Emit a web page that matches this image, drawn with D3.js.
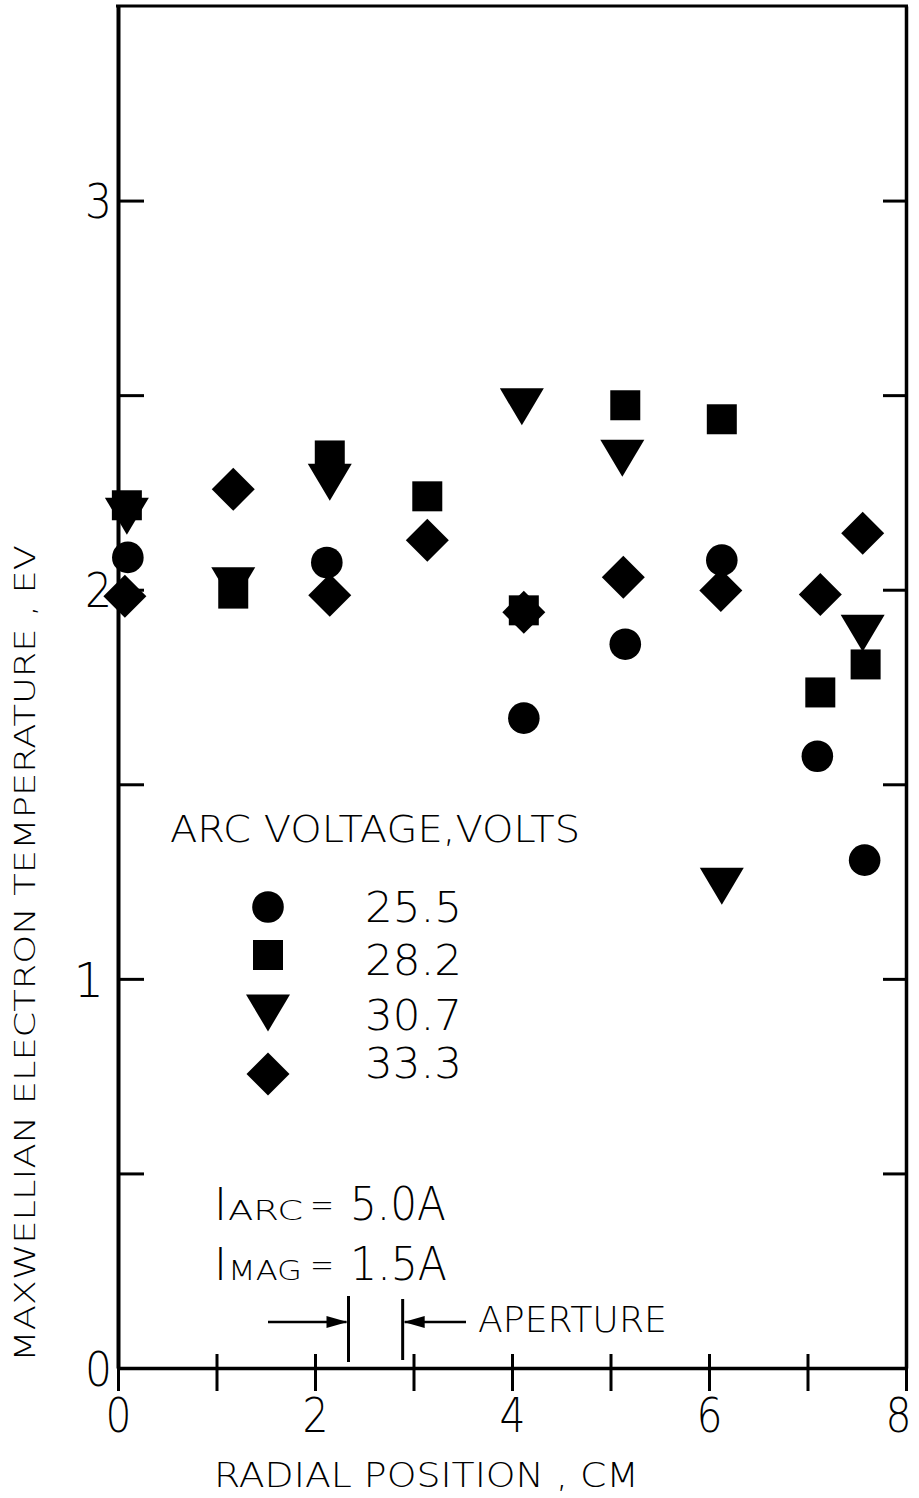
<!DOCTYPE html>
<html><head><meta charset="utf-8">
<script src="https://cdn.jsdelivr.net/npm/d3@7"></script>
<style>
html,body{margin:0;padding:0;background:#fff;}
svg text{font-family:"DejaVu Sans", sans-serif; font-weight:200; fill:#000;}
</style></head><body>
<svg id="chart" width="919" height="1498"></svg>
<script>
// ---- data ----
const xTicks = [0, 1, 2, 3, 4, 5, 6, 7, 8];
const xTickLabels = ["0", "", "2", "", "4", "", "6", "", "8"];
const yTicks = [0, 0.5, 1, 1.5, 2, 2.5, 3];
const yTickLabels = ["0", "", "1", "", "2", "", "3"];

const seriesNames = ["25.5", "28.2", "30.7", "33.3"];
const seriesShapes = ["circle", "square", "triangle", "diamond"];

const circleX = [0.10, 2.12, 4.12, 5.15, 6.13, 7.10, 7.58];
const circleY = [2.083, 2.070, 1.670, 1.860, 2.076, 1.572, 1.305];

const squareX = [0.09, 1.17, 2.15, 3.14, 4.12, 5.15, 6.13, 7.13, 7.59];
const squareY = [2.217, 1.990, 2.345, 2.240, 1.947, 2.474, 2.438, 1.736, 1.808];

const triangleX = [0.09, 1.17, 2.15, 4.10, 5.12, 6.13, 7.56];
const triangleY = [2.189, 2.010, 2.276, 2.470, 2.338, 1.238, 1.888];

const diamondX = [0.07, 1.17, 2.15, 3.14, 4.12, 5.13, 6.12, 7.13, 7.56];
const diamondY = [1.983, 2.258, 1.986, 2.127, 1.942, 2.032, 1.998, 1.988, 2.145];

const apertureEdges = [2.34, 2.89];

// ---- layout ----
const svg = d3.select("#chart");
const x = d3.scaleLinear().domain([0, 8]).range([118, 906]);
const y = d3.scaleLinear().domain([0, 3.5]).range([1368, 6]);

function shapePath(kind) {
  if (kind === "circle") return d3.symbol().type(d3.symbolCircle).size(Math.PI * 15.8 * 15.8)();
  if (kind === "square") return "M-15,-15H15V15H-15Z";
  if (kind === "triangle") return "M-22,-18.5L22,-18.5L0,18.5Z";
  return "M0,-21.5L21.5,0L0,21.5L-21.5,0Z";
}

// frame: top border
svg.append("line").attr("x1", x(0) - 2).attr("x2", x(8) + 2)
  .attr("y1", y(3.5)).attr("y2", y(3.5)).attr("stroke", "#000").attr("stroke-width", 3);

// bottom axis
const gx = svg.append("g").attr("transform", `translate(0,${y(0)})`)
  .call(d3.axisBottom(x).tickValues(xTicks).tickSize(22).tickSizeOuter(0)
    .tickFormat((d, i) => xTickLabels[i]));
gx.select(".domain").attr("stroke-width", 3.5);
gx.selectAll(".tick line").attr("y1", -14).attr("y2", 23).attr("stroke-width", 3);
gx.selectAll(".tick text").attr("y", 64).attr("dy", 0)
  .attr("x", d => d === 8 ? -8 : 0)
  .attr("textLength", d => (d % 2 === 0 ? 26 : null)).attr("lengthAdjust", "spacingAndGlyphs")
  .style("font-size", "48px").style("font-family", "DejaVu Sans").style("font-weight", 200);

// left axis
const gy = svg.append("g").attr("transform", `translate(${x(0)},0)`)
  .call(d3.axisLeft(y).tickValues(yTicks).tickSize(-26).tickSizeOuter(0)
    .tickFormat((d, i) => yTickLabels[i]));
gy.select(".domain").attr("stroke-width", 4);
gy.selectAll(".tick line").attr("stroke-width", 3);
gy.selectAll(".tick text").attr("x", d => d === 1 ? -14 : -6).attr("dy", "0.36em")
  .attr("textLength", d => (d === 0 || d === 2 || d === 3) ? 27 : null).attr("lengthAdjust", "spacingAndGlyphs")
  .style("font-size", "48px").style("font-family", "DejaVu Sans").style("font-weight", 200);

// right axis
const gr = svg.append("g").attr("transform", `translate(${x(8)},0)`)
  .call(d3.axisRight(y).tickValues(yTicks).tickSize(-23).tickSizeOuter(0).tickFormat(""));
gr.select(".domain").attr("stroke-width", 3.5);
gr.selectAll(".tick line").attr("stroke-width", 3);

// axis titles
svg.append("text").attr("x", 214).attr("y", 1487)
  .attr("textLength", 425).attr("lengthAdjust", "spacingAndGlyphs")
  .style("font-size", "34px").text("RADIAL POSITION , CM");

svg.append("text").attr("transform", "translate(35,1362) rotate(-90)")
  .attr("textLength", 817).attr("lengthAdjust", "spacingAndGlyphs")
  .style("font-size", "28px").text("MAXWELLIAN ELECTRON TEMPERATURE , EV");

// data points
const series = [
  {xs: circleX, ys: circleY, shape: "circle"},
  {xs: squareX, ys: squareY, shape: "square"},
  {xs: triangleX, ys: triangleY, shape: "triangle"},
  {xs: diamondX, ys: diamondY, shape: "diamond"}
];
series.forEach(s => {
  svg.append("g").selectAll("path").data(s.xs.map((v, i) => [v, s.ys[i]]))
    .join("path")
    .attr("d", shapePath(s.shape))
    .attr("transform", d => `translate(${x(d[0])},${y(d[1])})`)
    .attr("fill", "#000");
});

// legend
svg.append("text").attr("x", 170).attr("y", 842)
  .attr("textLength", 410).attr("lengthAdjust", "spacingAndGlyphs")
  .style("font-size", "37px").text("ARC VOLTAGE,VOLTS");

const legendY = [907, 955, 1013, 1074];
const legendBase = [922, 975, 1030, 1078];
seriesNames.forEach((name, i) => {
  svg.append("path").attr("d", shapePath(seriesShapes[i]))
    .attr("transform", `translate(268,${legendY[i]})`).attr("fill", "#000");
  svg.append("text").attr("x", 365).attr("y", legendBase[i])
    .attr("textLength", 97).attr("lengthAdjust", "spacingAndGlyphs")
    .style("font-size", "42px").text(name);
});

// annotations: I_ARC, I_MAG
function currentLabel(base, sub, val, subLen, valLen) {
  svg.append("text").attr("x", 214).attr("y", base).style("font-size", "44px").text("I");
  svg.append("text").attr("x", 228).attr("y", base)
    .attr("textLength", subLen).attr("lengthAdjust", "spacingAndGlyphs")
    .style("font-size", "26px").text(sub);
  svg.append("text").attr("x", 310).attr("y", base - 3)
    .attr("textLength", 24).attr("lengthAdjust", "spacingAndGlyphs")
    .style("font-size", "36px").text("=");
  svg.append("text").attr("x", 350).attr("y", base)
    .attr("textLength", valLen).attr("lengthAdjust", "spacingAndGlyphs")
    .style("font-size", "47px").text(val);
}
currentLabel(1220, "ARC", "5.0A", 75, 96);
currentLabel(1280, "MAG", "1.5A", 74, 97);

// aperture marks
const apY = 1322;
svg.append("line").attr("x1", x(apertureEdges[0])).attr("x2", x(apertureEdges[0]))
  .attr("y1", 1296).attr("y2", 1362).attr("stroke", "#000").attr("stroke-width", 3);
svg.append("line").attr("x1", x(apertureEdges[1])).attr("x2", x(apertureEdges[1]))
  .attr("y1", 1299).attr("y2", 1360).attr("stroke", "#000").attr("stroke-width", 3);
svg.append("line").attr("x1", 268).attr("x2", x(apertureEdges[0]) - 2)
  .attr("y1", apY).attr("y2", apY).attr("stroke", "#000").attr("stroke-width", 2.5);
svg.append("path").attr("fill", "#000")
  .attr("d", `M${x(apertureEdges[0]) - 1},${apY} L${x(apertureEdges[0]) - 22},${apY - 6} L${x(apertureEdges[0]) - 22},${apY + 6} Z`);
svg.append("line").attr("x1", x(apertureEdges[1]) + 2).attr("x2", 466)
  .attr("y1", apY).attr("y2", apY).attr("stroke", "#000").attr("stroke-width", 2.5);
svg.append("path").attr("fill", "#000")
  .attr("d", `M${x(apertureEdges[1]) + 1},${apY} L${x(apertureEdges[1]) + 22},${apY - 6} L${x(apertureEdges[1]) + 22},${apY + 6} Z`);
svg.append("text").attr("x", 478).attr("y", 1332)
  .attr("textLength", 189).attr("lengthAdjust", "spacingAndGlyphs")
  .style("font-size", "36px").text("APERTURE");
</script>
</body></html>
